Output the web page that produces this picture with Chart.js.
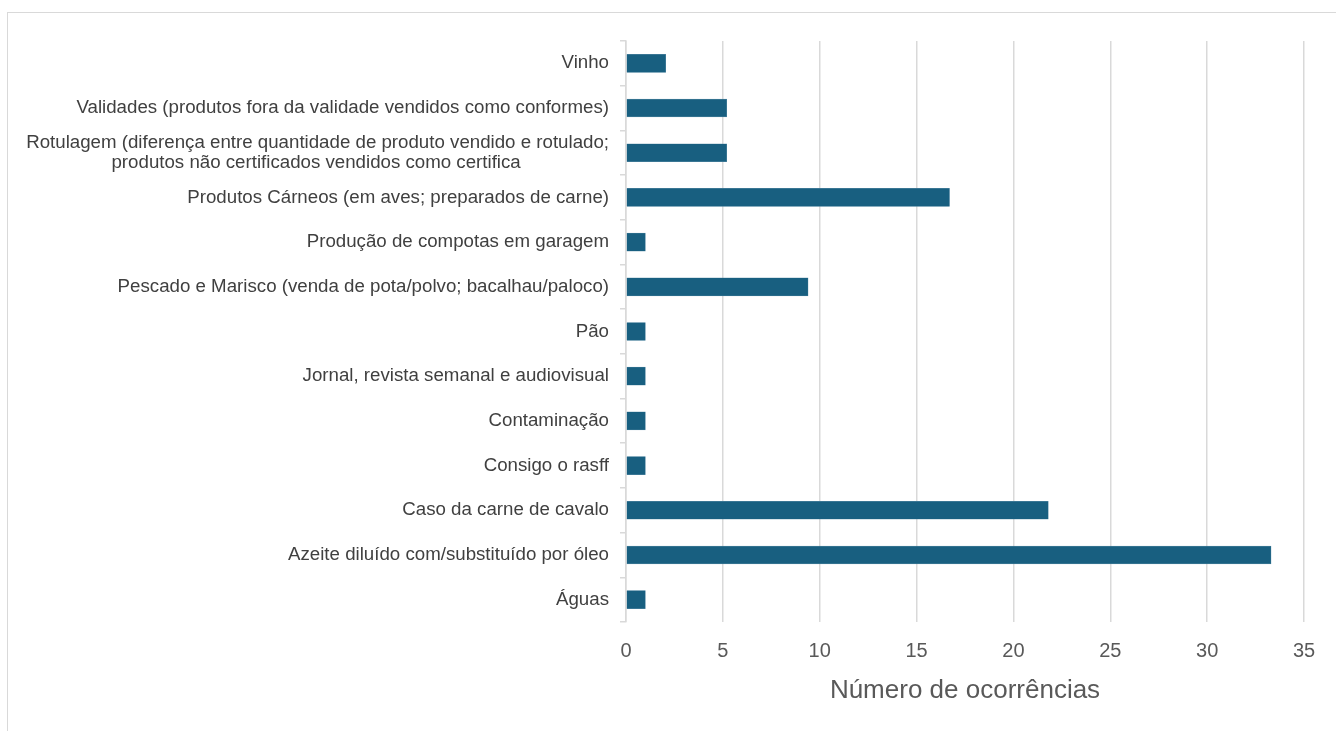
<!DOCTYPE html>
<html>
<head>
<meta charset="utf-8">
<script src="https://cdn.jsdelivr.net/npm/chart.js@4"></script>
<style>
  html, body { margin: 0; padding: 0; background: #fff; }
  #frame { position: absolute; left: 7px; top: 12px; width: 1340px; height: 730px; border: 1px solid #d9d9d9; }
  #wrap { position: absolute; left: 0; top: 0; width: 1336px; height: 731px; }
</style>
</head>
<body>
<div id="frame"></div>
<div id="wrap"><canvas id="chart"></canvas></div>
<script>
// Categories (top to bottom) and number of occurrences
const categories = [
  "Vinho",
  "Validades (produtos fora da validade vendidos como conformes)",
  ["Rotulagem (diferença entre quantidade de produto vendido e rotulado;",
   "produtos não certificados vendidos como certifica                 "],
  "Produtos Cárneos (em aves; preparados de carne)",
  "Produção de compotas em garagem",
  "Pescado e Marisco (venda de pota/polvo; bacalhau/paloco)",
  "Pão",
  "Jornal, revista semanal e audiovisual",
  "Contaminação",
  "Consigo o rasff",
  "Caso da carne de cavalo",
  "Azeite diluído com/substituído por óleo",
  "Águas"
];
const occurrences = [2.05, 5.2, 5.2, 16.7, 1, 9.4, 1, 1, 1, 1, 21.8, 33.3, 1];
const xTicks = [0, 5, 10, 15, 20, 25, 30, 35];
const axisTitle = "Número de ocorrências";

const gridColor = "#d9d9d9";

new Chart(document.getElementById("chart"), {
  type: "bar",
  data: {
    labels: categories,
    datasets: [{
      data: occurrences,
      backgroundColor: "#185f80",
      borderColor: "#5d8ea8",
      borderWidth: 0.5,
      barThickness: 18
    }]
  },
  options: {
    indexAxis: "y",
    responsive: true,
    maintainAspectRatio: false,
    animation: false,
    layout: { padding: { top: 41, right: 32, left: 0, bottom: 0 } },
    plugins: { legend: { display: false }, tooltip: { enabled: false } },
    scales: {
      x: {
        min: 0,
        max: 35,
        afterBuildTicks: s => { s.ticks = xTicks.map(v => ({ value: v })); },
        afterFit: s => { s.height = 109; },
        grid: { color: gridColor, lineWidth: 1.5, drawTicks: false },
        border: { display: false },
        ticks: {
          color: "#595959",
          font: { family: "Liberation Sans", size: 20 },
          padding: 17
        },
        title: {
          display: true,
          text: axisTitle,
          color: "#595959",
          font: { family: "Liberation Sans", size: 26 },
          padding: { top: 0, bottom: 25 }
        }
      },
      y: {
        afterFit: s => { s.width = 626; },
        grid: { drawOnChartArea: false, drawTicks: true, tickLength: 6, color: gridColor, lineWidth: 1.5 },
        border: { color: gridColor, width: 1.5 },
        ticks: {
          color: "#404040",
          font: { family: "Liberation Sans", size: 18.7, lineHeight: 1.07 },
          padding: 11,
          autoSkip: false
        }
      }
    }
  }
});
</script>
</body>
</html>
